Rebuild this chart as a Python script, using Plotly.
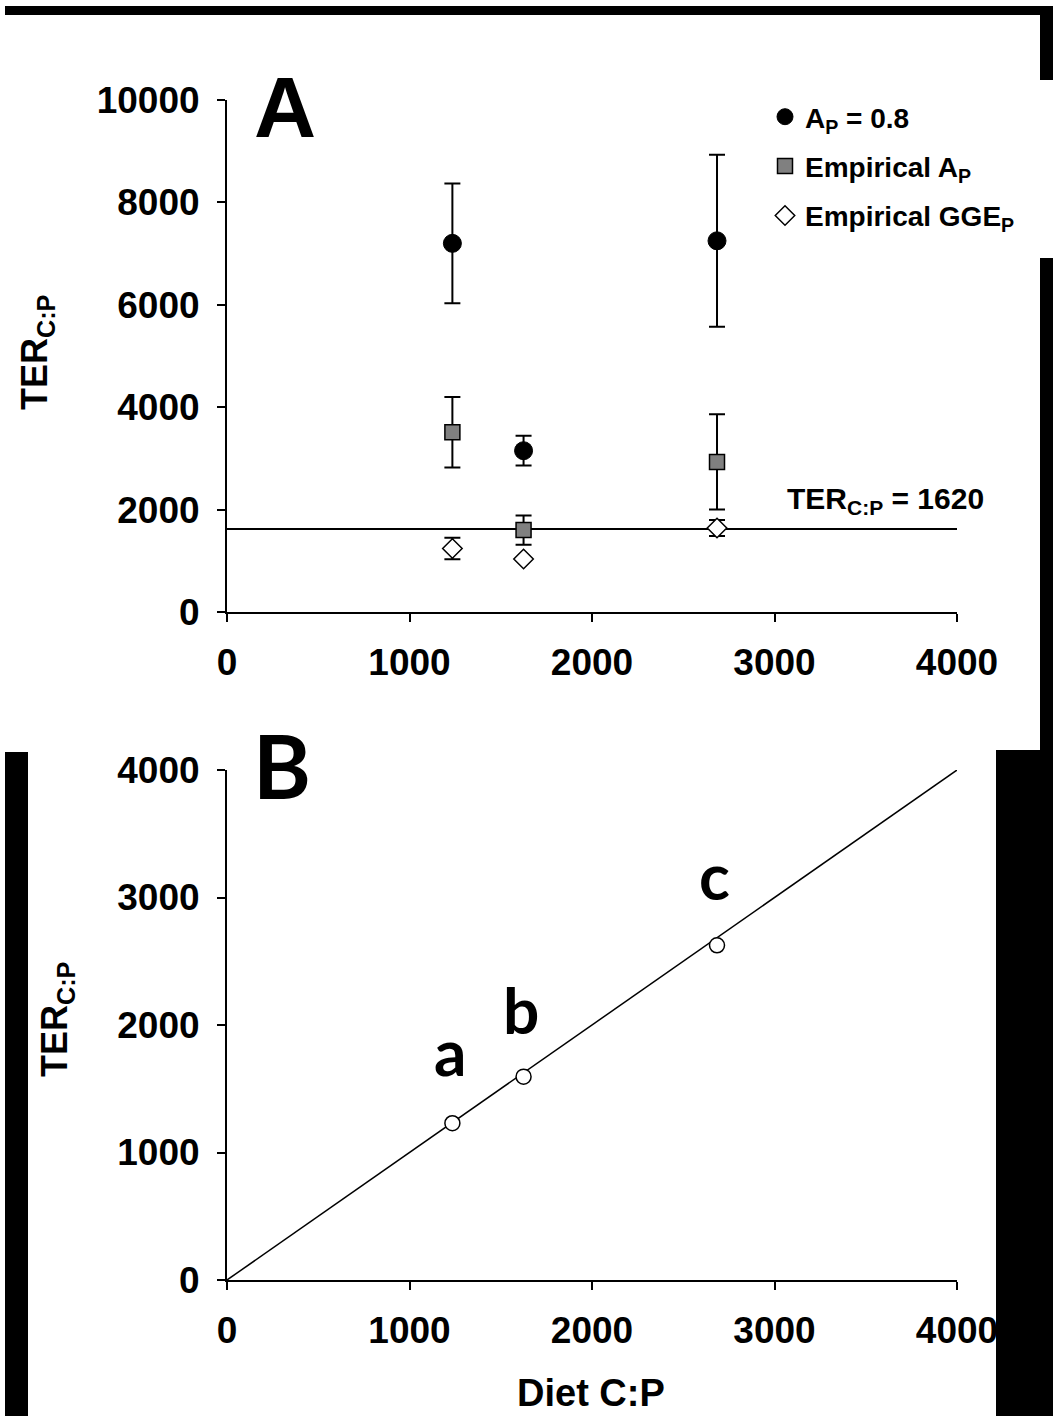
import plotly.graph_objects as go

# ---------------- data ----------------
diet_cp = [1235, 1625, 2685]

# Panel A
ap08_mean = [7200, 3150, 7250]
ap08_err = [1170, 290, 1680]
emp_ap_mean = [3510, 1600, 2930]
emp_ap_err = [690, 285, 930]
emp_gge_mean = [1240, 1035, 1640]
emp_gge_err = [210, 0, 155]
ter_threshold = 1620
threshold_x = [0, 4000]

# Panel B
ter_b = [1230, 1595, 2625]
point_labels = ["a", "b", "c"]
label_x = [1220, 1610, 2670]
label_y = [1796, 2125, 3169]
one_to_one = [0, 4000]

W, H = 1053, 1416
def px(x):
    return x / W
def py(y):
    return 1 - y / H

TICKFONT = dict(family="Liberation Sans, Arial", size=37, color="black", weight="bold")

fig = go.Figure()

# Panel A
fig.add_trace(go.Scatter(x=threshold_x, y=[ter_threshold, ter_threshold], mode="lines",
                         line=dict(color="black", width=2), showlegend=False,
                         xaxis="x", yaxis="y", hoverinfo="skip"))
fig.add_trace(go.Scatter(
    x=diet_cp, y=ap08_mean, mode="markers", name="A<sub>P</sub> = 0.8",
    legendgroup="g1",
    marker=dict(symbol="circle", size=18, color="black", line=dict(color="black", width=1)),
    error_y=dict(type="data", array=ap08_err, visible=True, color="black", thickness=2, width=8),
    xaxis="x", yaxis="y"))
fig.add_trace(go.Scatter(
    x=diet_cp, y=emp_ap_mean, mode="markers", name="Empirical A<sub>P</sub>",
    legendgroup="g2",
    marker=dict(symbol="square", size=15, color="#808080", line=dict(color="black", width=1.5)),
    error_y=dict(type="data", array=emp_ap_err, visible=True, color="black", thickness=2, width=8),
    xaxis="x", yaxis="y"))
fig.add_trace(go.Scatter(
    x=diet_cp, y=emp_gge_mean, mode="markers", name="Empirical GGE<sub>P</sub>",
    legendgroup="g3",
    marker=dict(symbol="diamond", size=15, color="white", line=dict(color="black", width=1.5)),
    error_y=dict(type="data", array=emp_gge_err, visible=True, color="black", thickness=2, width=8),
    xaxis="x", yaxis="y"))

# Panel B
fig.add_trace(go.Scatter(x=one_to_one, y=one_to_one, mode="lines",
                         line=dict(color="black", width=1.5), showlegend=False,
                         xaxis="x2", yaxis="y2", hoverinfo="skip"))
fig.add_trace(go.Scatter(
    x=diet_cp, y=ter_b, mode="markers", showlegend=False,
    marker=dict(symbol="circle", size=15, color="white", line=dict(color="black", width=1.5)),
    xaxis="x2", yaxis="y2"))

axis_common = dict(showline=True, linecolor="black", linewidth=2, ticks="outside",
                   ticklen=8, tickwidth=2, tickcolor="black", showgrid=False,
                   zeroline=False, tickfont=TICKFONT, automargin=False, tickformat="d")

fig.update_layout(
    template="none",
    width=W, height=H,
    margin=dict(l=0, r=0, t=0, b=0, pad=0),
    paper_bgcolor="white", plot_bgcolor="white",
    xaxis=dict(domain=[px(227), px(957)], range=[0, 4000], tickvals=[0, 1000, 2000, 3000, 4000],
               anchor="y", ticklabelstandoff=9, **axis_common),
    yaxis=dict(domain=[py(612), py(100)], range=[0, 10000], tickvals=[0, 2000, 4000, 6000, 8000, 10000],
               anchor="x", ticklabelstandoff=10, **axis_common),
    xaxis2=dict(domain=[px(227), px(957)], range=[0, 4000], tickvals=[0, 1000, 2000, 3000, 4000],
                anchor="y2", ticklabelstandoff=9, **axis_common),
    yaxis2=dict(domain=[py(1280), py(770)], range=[0, 4000], tickvals=[0, 1000, 2000, 3000, 4000],
                anchor="x2", ticklabelstandoff=10, **axis_common),
    legend=dict(x=px(765), y=py(92), xanchor="left", yanchor="top",
                font=dict(family="Liberation Sans, Arial", size=28, color="black", weight="bold"),
                bgcolor="rgba(0,0,0,0)", tracegroupgap=10, itemsizing="trace"),
    showlegend=True,
)

def A(text, x, y, size, family="Liberation Sans, Arial", xref="paper", yref="paper", angle=0):
    xx = px(x) if xref == "paper" else x
    yy = py(y) if yref == "paper" else y
    return dict(text=text, x=xx, y=yy, xref=xref, yref=yref, showarrow=False,
                xanchor="center", yanchor="middle", textangle=angle,
                font=dict(family=family, size=size, color="black", weight="bold"))

ann = [
    A("A", 285, 107, 86),
    A("B", 282, 765, 88, family="Lato"),
    A("TER<sub>C:P</sub>", 37, 353, 36, angle=-90),
    A("TER<sub>C:P</sub>", 57, 1020, 36, angle=-90),
    A("TER<sub>C:P</sub> = 1620", 885, 500, 30),
    A("Diet C:P", 591, 1393, 38),
]
for lx, ly, t in zip(label_x, label_y, point_labels):
    ann.append(A(t, lx, ly, 64, family="Lato", xref="x2", yref="y2"))
fig.update_layout(annotations=ann)

# scan border bars of the original figure
bars = [
    (5, 6, 1053, 15),
    (1040, 6, 1053, 80),
    (1040, 258, 1053, 752),
    (996, 750, 1053, 1416),
    (5, 752, 28, 1416),
]
shapes = []
for x0, y0, x1, y1 in bars:
    shapes.append(dict(type="rect", xref="paper", yref="paper", x0=px(x0), x1=px(x1),
                       y0=py(y1), y1=py(y0), fillcolor="black", line=dict(width=0), layer="above"))
fig.update_layout(shapes=shapes)

fig.write_html("out.html", config={"displayModeBar": False},
               post_script="document.body.style.margin='0';document.body.style.overflow='hidden';")
